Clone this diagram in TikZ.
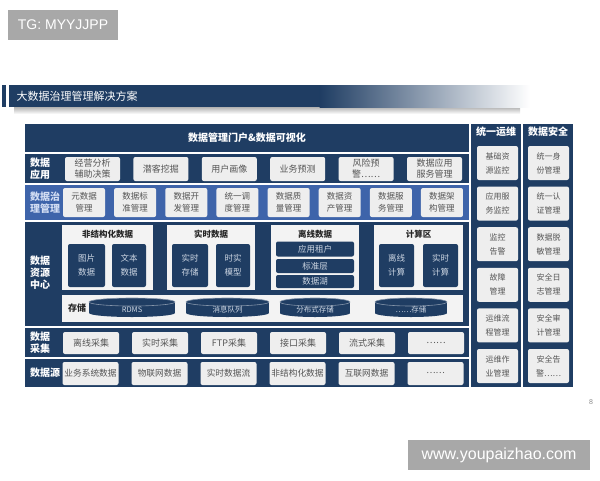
\documentclass[tikz,border=0pt]{standalone}
\usepackage{fontspec}
\setmainfont{Noto Sans CJK SC}
\newfontfamily\wmfont{Liberation Sans}
\usetikzlibrary{positioning}
\definecolor{navy}{HTML}{1F3D63}
\definecolor{govblue}{HTML}{3E64AA}
\definecolor{cellgray}{HTML}{EEEEEE}
\definecolor{panelwhite}{HTML}{F3F3F3}
\definecolor{celltext}{HTML}{555555}
\definecolor{darktext}{HTML}{CDD6E3}
\definecolor{govtext}{HTML}{D2DDF3}
\definecolor{wmgray}{HTML}{A8A8A8}
\tikzset{
  cell/.style={fill=cellgray,rounded corners=2pt,text=celltext,align=center,
    inner sep=0pt,font=\fontsize{9}{11}\selectfont},
  sidecell/.style={cell,minimum width=41pt,minimum height=34pt,
    font=\fontsize{8}{14}\selectfont},
  darkcell/.style={fill=navy,rounded corners=2pt,text=darktext,align=center,
    inner sep=0pt,font=\fontsize{8.5}{14}\selectfont},
  panel/.style={fill=panelwhite,inner sep=0pt},
  paneltitle/.style={text=black!85,font=\fontsize{8.5}{10}\selectfont\bfseries},
  rowlabel/.style={anchor=west,text=white,align=left,inner sep=0pt,
    font=\fontsize{10}{12}\selectfont\bfseries},
  colhead/.style={text=white,font=\fontsize{10}{12}\selectfont\bfseries},
  disklabel/.style={text=darktext,font=\fontsize{7.5}{8}\selectfont},
  wmbox/.style={fill=wmgray,text=white,inner sep=0pt}
}

\begin{document}
\begin{tikzpicture}[x=1pt,y=-1pt]
  \useasboundingbox (0,0) rectangle (600,480);

  % watermarks
  \node[wmbox,minimum width=110pt,minimum height=30pt,
    font=\wmfont\fontsize{14}{16}\selectfont] (tgmark) at (63,25) {TG: MYYJJPP};
  \node[wmbox,minimum width=182pt,minimum height=30pt,
    font=\wmfont\fontsize{16}{18}\selectfont] (sitemark) at (499,455) {www.youpaizhao.com};

  % title bar
  \shade[top color=black!30,bottom color=white] (14,107) rectangle (520,114);
  \fill[navy] (2,85) rectangle (6,107);
  \fill[navy] (9,85) rectangle (320,107);
  \shade[left color=navy,right color=white] (319.5,85) rectangle (530,107);
  \node[anchor=west,text=white,font=\fontsize{11}{13}\selectfont] (title) at (13,96)
    {大数据治理管理解决方案};

  % bands
  \fill[navy] (25,124) rectangle (469,152);
  \fill[navy] (25,154) rectangle (469,183);
  \fill[govblue] (25,185) rectangle (469,220);
  \fill[navy] (25,222) rectangle (469,326);
  \fill[navy] (25,328) rectangle (469,357);
  \fill[navy] (25,359) rectangle (469,387);
  \fill[navy] (471,124) rectangle (521,387);
  \fill[navy] (523,124) rectangle (573,387);

  \node[colhead] (portal) at (247,138) {数据管理门户\&数据可视化};

  % row labels
  \node[rowlabel] (lblapp) at (30,169) {数据\\应用};
  \node[rowlabel,text=govtext] (lblgov) at (30,202.5) {数据治\\理管理};
  \node[rowlabel] (lblres) at (30,273) {数据\\资源\\中心};
  \node[rowlabel] (lblcol) at (30,342.5) {数据\\采集};
  \node[rowlabel] (lblsrc) at (30,373) {数据源};

  % data applications
  \foreach \i/\txt in {1/{经营分析\\辅助决策},2/潜客挖掘,3/用户画像,4/业务预测,
      5/{风险预\\警……},6/{数据应用\\服务管理}}
    \node[cell,minimum width=55pt,minimum height=24pt] (app\i)
      at ({92.5+(\i-1)*68.4},169) {\txt};

  % governance
  \foreach \i/\txt in {1/{元数据\\管理},2/{数据标\\准管理},3/{数据开\\发管理},
      4/{统一调\\度管理},5/{数据质\\量管理},6/{数据资\\产管理},7/{数据服\\务管理},
      8/{数据架\\构管理}}
    \node[cell,minimum width=42pt,minimum height=29pt,
      font=\fontsize{8.5}{11.5}\selectfont] (gov\i)
      at ({84+(\i-1)*51.14},202.5) {\txt};

  % resource center panels
  \node[panel,minimum width=91pt,minimum height=65pt] (unstruct) at (107.5,257.5) {};
  \node[panel,minimum width=88pt,minimum height=65pt] (realtime) at (211,257.5) {};
  \node[panel,minimum width=88pt,minimum height=65pt] (offline) at (315,257.5) {};
  \node[panel,minimum width=89pt,minimum height=65pt] (compute) at (418.5,257.5) {};
  \node[paneltitle] (unstructlbl) at (107.5,234) {非结构化数据};
  \node[paneltitle] (realtimelbl) at (211,234) {实时数据};
  \node[paneltitle] (offlinelbl) at (315,234) {离线数据};
  \node[paneltitle] (computelbl) at (418.5,234) {计算区};

  \node[darkcell,minimum width=37pt,minimum height=43pt] (picdata) at (86.5,265.5) {图片\\数据};
  \node[darkcell,minimum width=34pt,minimum height=43pt] (textdata) at (129,265.5) {文本\\数据};
  \node[darkcell,minimum width=36pt,minimum height=43pt] (rtstore) at (190,265.5) {实时\\存储};
  \node[darkcell,minimum width=34pt,minimum height=43pt] (rtmodel) at (233,265.5) {时实\\模型};
  \node[darkcell,minimum width=35pt,minimum height=43pt] (offcalc) at (396.5,265.5) {离线\\计算};
  \node[darkcell,minimum width=35pt,minimum height=43pt] (rtcalc) at (440.5,265.5) {实时\\计算};

  \node[darkcell,minimum width=78pt,minimum height=15pt,
    font=\fontsize{8.5}{10}\selectfont] (tenant) at (315,249) {应用租户};
  \node[darkcell,minimum width=78pt,minimum height=14pt,
    font=\fontsize{8.5}{10}\selectfont] (stdlayer) at (315,266) {标准层};
  \node[darkcell,minimum width=78pt,minimum height=13pt,
    font=\fontsize{8.5}{10}\selectfont] (lake) at (315,281.5) {数据湖};

  % storage
  \node[panel,minimum width=401pt,minimum height=27pt] (storage) at (262.5,308.5) {};
  \node[paneltitle,font=\fontsize{9}{10}\selectfont\bfseries] (storelbl) at (77,308.5) {存储};
  \foreach \nm/\cx/\rx/\txt in {rdms/132/43/RDMS,queue/227.5/41.5/消息队列,
      dfs/315/35/分布式存储,etc/411/36/……存储} {
    \fill[navy] (\cx,313) ellipse[x radius=\rx,y radius=4];
    \fill[navy] ({\cx-\rx},302) rectangle ({\cx+\rx},313);
    \fill[navy] (\cx,302) ellipse[x radius=\rx,y radius=4];
    \draw[navy!55!white,line width=0.6pt] (\cx,302) ellipse[x radius=\rx,y radius=4];
    \node[disklabel] (\nm) at (\cx,309.5) {\txt};
  }

  % collection and sources
  \foreach \i/\txt in {1/离线采集,2/实时采集,3/FTP采集,4/接口采集,5/流式采集,6/……}
    \node[cell,minimum width=56pt,minimum height=22pt] (col\i)
      at ({91+(\i-1)*69},343) {\txt};
  \foreach \i/\txt in {1/业务系统数据,2/物联网数据,3/实时数据流,4/非结构化数据,
      5/互联网数据,6/……}
    \node[cell,minimum width=56pt,minimum height=23pt,
      font=\fontsize{8.7}{10}\selectfont] (src\i)
      at ({90.5+(\i-1)*69},373.5) {\txt};

  % side columns
  \node[colhead] (opshead) at (496,132) {统一运维};
  \node[colhead] (sechead) at (548,132) {数据安全};
  \foreach \i/\txt in {1/{基础资\\源监控},2/{应用服\\务监控},3/{监控\\告警},
      4/{故障\\管理},5/{运维流\\程管理},6/{运维作\\业管理}}
    \node[sidecell] (ops\i) at (497.5,{163+(\i-1)*40.6}) {\txt};
  \foreach \i/\txt in {1/{统一身\\份管理},2/{统一认\\证管理},3/{数据脱\\敏管理},
      4/{安全日\\志管理},5/{安全审\\计管理},6/{安全告\\警……}}
    \node[sidecell] (sec\i) at (548.5,{163+(\i-1)*40.6}) {\txt};

  \node[text=black!45,font=\wmfont\fontsize{7}{8}\selectfont] (pagenum) at (591,402) {8};
\end{tikzpicture}
\end{document}
